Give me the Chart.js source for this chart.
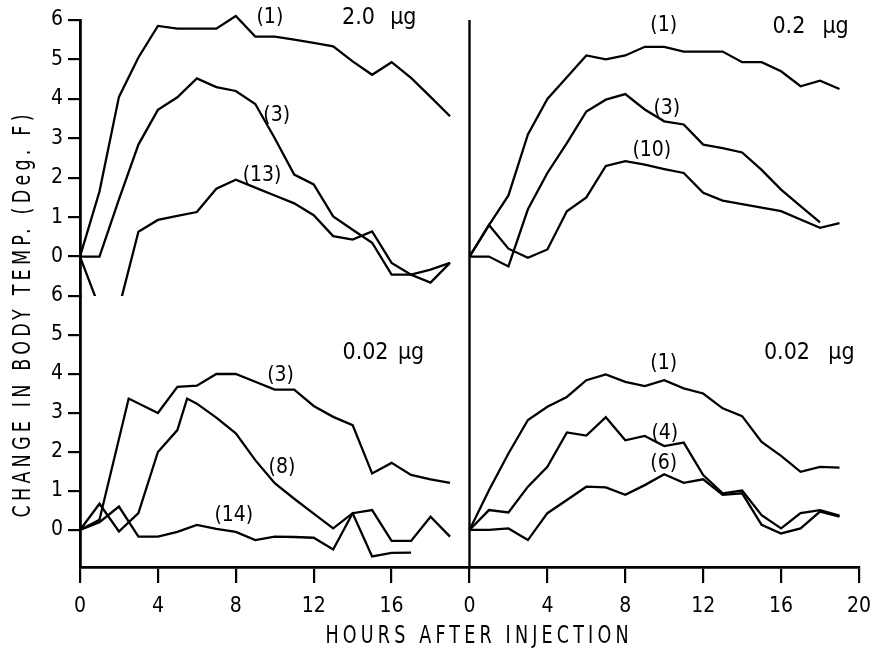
<!DOCTYPE html>
<html lang="en">
<head>
<meta charset="UTF-8">
<title>Change in body temperature</title>
<script src="https://cdn.jsdelivr.net/npm/chart.js"></script>
<style>
  body { margin: 0; background: #fff; }
</style>
</head>
<body>
<canvas id="myChart" width="882" height="656"></canvas>

<script>
// ---- data (hours after injection / change in temp, deg F) ----
const hours = [0, 1, 2, 3, 4, 5, 6, 7, 8, 9, 10, 11, 12, 13, 14, 15, 16, 17, 18, 19];

// top left : 2.0 ug
const tl1 = [0, 1.65, 4.05, 5.05, 5.85, 5.78, 5.78, 5.78, 6.1, 5.58, 5.58, 5.5, 5.42, 5.33, 4.95, 4.61, 4.93, 4.53, 4.05, 3.56];
const tl3 = [0, 0, 1.45, 2.84, 3.72, 4.04, 4.52, 4.3, 4.2, 3.87, 3.0, 2.08, 1.83, 1.02, 0.68, 0.35, -0.46, -0.46, -0.33, -0.16];
const tl13 = [0, -1.3, -1.3, 0.63, 0.93, 1.03, 1.13, 1.72, 1.95, 1.75, 1.55, 1.35, 1.05, 0.52, 0.43, 0.64, -0.16, -0.46, -0.66, -0.16];

// top right : 0.2 ug
const tr1 = [0, 0.8, 1.55, 3.1, 4.0, 4.55, 5.1, 5.0, 5.1, 5.32, 5.32, 5.2, 5.2, 5.2, 4.93, 4.93, 4.7, 4.32, 4.46, 4.25];
const tr3Hours = [0, 1, 2, 3, 4, 5, 6, 7, 8, 9, 10, 11, 12, 13, 14, 15, 16, 17, 18];
const tr3 = [0, 0, -0.25, 1.2, 2.12, 2.88, 3.68, 3.98, 4.12, 3.73, 3.43, 3.35, 2.84, 2.75, 2.64, 2.2, 1.7, 1.28, 0.87];
const tr10 = [0, 0.8, 0.2, -0.03, 0.18, 1.15, 1.5, 2.3, 2.42, 2.33, 2.22, 2.12, 1.62, 1.42, 1.33, 1.24, 1.15, 0.94, 0.73, 0.85];

// bottom left : 0.02 ug
const bl3Hours = [0, 1, 2.5, 4, 5, 6, 7, 8, 9, 10, 11, 12, 13, 14, 15, 16, 17, 18, 19];
const bl3 = [0, 0.26, 3.37, 3.0, 3.67, 3.7, 4.0, 4.0, 3.8, 3.6, 3.6, 3.18, 2.9, 2.69, 1.45, 1.72, 1.41, 1.3, 1.21];
const bl8Hours = [0, 1, 2, 3, 4, 5, 5.5, 6, 7, 8, 9, 10, 11, 12, 13, 14, 15, 16, 17];
const bl8 = [0, 0.67, -0.04, 0.43, 2.0, 2.56, 3.37, 3.24, 2.88, 2.48, 1.79, 1.2, 0.8, 0.42, 0.04, 0.43, -0.68, -0.59, -0.58];
const bl14 = [0, 0.2, 0.6, -0.17, -0.17, -0.05, 0.13, 0.03, -0.05, -0.26, -0.17, -0.18, -0.2, -0.5, 0.43, 0.51, -0.28, -0.28, 0.34, -0.17];

// bottom right : 0.02 ug
const br1 = [0, 1.02, 1.96, 2.82, 3.16, 3.41, 3.84, 3.99, 3.8, 3.69, 3.84, 3.63, 3.5, 3.12, 2.92, 2.26, 1.9, 1.49, 1.62, 1.6];
const br4 = [0, 0.51, 0.45, 1.11, 1.62, 2.5, 2.42, 2.89, 2.3, 2.41, 2.15, 2.24, 1.41, 0.94, 1.01, 0.38, 0.04, 0.43, 0.51, 0.37];
const br6 = [0, 0, 0.04, -0.26, 0.43, 0.77, 1.11, 1.09, 0.9, 1.15, 1.43, 1.21, 1.3, 0.9, 0.94, 0.13, -0.09, 0.04, 0.47, 0.34];

// ticks
const yTicks = [0, 1, 2, 3, 4, 5, 6];
const xTicksLeft = [0, 4, 8, 12, 16];
const xTicksRight = [0, 4, 8, 12, 16, 20];

// text written on the panels: [text, x scale, y scale, hours, deg]
const notes = [
    ['(1)', 'xL', 'yTop', 9.75, 6.06], ['2.0', 'xL', 'yTop', 14.3, 6.06], ['μg', 'xL', 'yTop', 16.6, 6.06],
    ['(3)', 'xL', 'yTop', 10.1, 3.58], ['(13)', 'xL', 'yTop', 9.35, 2.06],
    ['(1)', 'xR', 'yTop', 9.97, 5.86], ['0.2', 'xR', 'yTop', 16.4, 5.81], ['μg', 'xR', 'yTop', 18.8, 5.81],
    ['(3)', 'xR', 'yTop', 10.13, 3.76], ['(10)', 'xR', 'yTop', 9.36, 2.7],
    ['0.02', 'xL', 'yBot', 14.66, 4.55], ['μg', 'xL', 'yBot', 17.0, 4.55],
    ['(3)', 'xL', 'yBot', 10.3, 3.96], ['(8)', 'xL', 'yBot', 10.37, 1.59], ['(14)', 'xL', 'yBot', 7.9, 0.36],
    ['(1)', 'xR', 'yBot', 9.97, 4.27], ['0.02', 'xR', 'yBot', 16.3, 4.55], ['μg', 'xR', 'yBot', 19.1, 4.55],
    ['(4)', 'xR', 'yBot', 10.03, 2.47], ['(6)', 'xR', 'yBot', 9.97, 1.7],
];
</script>

<script>
const FONT = "'DejaVu Sans Condensed', 'Liberation Sans Narrow', 'DejaVu Sans', sans-serif";
const INK = '#000';

function pts(xs, ys) {
    return xs.map((x, i) => ({ x: x, y: ys[i] }));
}

function line(xs, ys, xAxis, yAxis) {
    return {
        data: pts(xs, ys),
        xAxisID: xAxis,
        yAxisID: yAxis,
        borderColor: INK,
        borderWidth: 2.3,
        pointRadius: 0,
        tension: 0,
        clip: false,
    };
}

// draw narrow lettering stretched to a given width (letter spacing)
function spreadText(ctx, text, cx, cy, width, angle) {
    const squeeze = 0.78;
    ctx.save();
    ctx.translate(cx, cy);
    ctx.rotate(angle);
    ctx.scale(squeeze, 1);
    ctx.letterSpacing = '0px';
    const w = ctx.measureText(text).width;
    const gap = (width / squeeze - w) / (text.length - 1);
    ctx.letterSpacing = gap + 'px';
    ctx.textAlign = 'left';
    ctx.textBaseline = 'middle';
    ctx.fillText(text, -width / squeeze / 2, 0);
    ctx.restore();
}

const decor = {
    id: 'decor',
    // keep each line inside its own panel
    beforeDatasetDraw(chart, args) {
        const xs = args.meta.xScale, ys = args.meta.yScale;
        const ctx = chart.ctx;
        ctx.save();
        ctx.beginPath();
        ctx.rect(xs.left - 2, ys.top - 20, xs.width + 4, ys.height + 20);
        ctx.clip();
    },
    afterDatasetDraw(chart) {
        chart.ctx.restore();
    },
    afterDraw(chart) {
        const ctx = chart.ctx;
        const area = chart.chartArea;
        const xR = chart.scales.xR;

        // divider between left and right panels
        ctx.save();
        ctx.strokeStyle = INK;
        ctx.lineWidth = 2.4;
        ctx.beginPath();
        ctx.moveTo(xR.left, area.top);
        ctx.lineTo(xR.left, area.bottom);
        ctx.stroke();

        // notes
        ctx.fillStyle = INK;
        ctx.textAlign = 'center';
        ctx.textBaseline = 'middle';
        notes.forEach(([text, xid, yid, x, y]) => {
            const big = !text.startsWith('(');
            ctx.font = (big ? '23px ' : '21px ') + FONT;
            ctx.fillText(text, chart.scales[xid].getPixelForValue(x), chart.scales[yid].getPixelForValue(y));
        });

        // axis titles
        ctx.font = '25px ' + FONT;
        spreadText(ctx, 'CHANGE IN BODY TEMP. (Deg. F)', 23, 316, 403, -Math.PI / 2);
        spreadText(ctx, 'HOURS AFTER INJECTION', 477, 636, 303, 0);
        ctx.restore();
    }
};

function yAxis(min, weight) {
    return {
        type: 'linear',
        position: 'left',
        stack: 'left',
        stackWeight: weight,
        min: min,
        max: 6,
        afterBuildTicks: (s) => { s.ticks = yTicks.map(v => ({ value: v })); },
        afterFit: (s) => { s.width = 80; },
        grid: { drawOnChartArea: false, tickLength: 12, color: INK, lineWidth: 2.2 },
        border: { color: INK, width: 2.8 },
        ticks: { color: INK, padding: 5, autoSkip: false, font: { family: FONT, size: 21 } },
    };
}

function xAxis(tickList) {
    return {
        type: 'linear',
        position: 'bottom',
        stack: 'bottom',
        stackWeight: 1,
        min: 0,
        max: 20,
        afterBuildTicks: (s) => { s.ticks = tickList.map(v => ({ value: v })); },
        afterFit: (s) => { s.height = 89; },
        grid: { drawOnChartArea: false, tickLength: 16, color: INK, lineWidth: 2.2 },
        border: { color: INK, width: 2.8 },
        ticks: { color: INK, padding: 11, autoSkip: false, maxRotation: 0, font: { family: FONT, size: 21 } },
    };
}

new Chart(document.getElementById('myChart'), {
    type: 'line',
    data: {
        datasets: [
            line(hours, tl1, 'xL', 'yTop'),
            line(hours, tl3, 'xL', 'yTop'),
            line(hours, tl13, 'xL', 'yTop'),
            line(hours, tr1, 'xR', 'yTop'),
            line(tr3Hours, tr3, 'xR', 'yTop'),
            line(hours, tr10, 'xR', 'yTop'),
            line(bl3Hours, bl3, 'xL', 'yBot'),
            line(bl8Hours, bl8, 'xL', 'yBot'),
            line(hours, bl14, 'xL', 'yBot'),
            line(hours, br1, 'xR', 'yBot'),
            line(hours, br4, 'xR', 'yBot'),
            line(hours, br6, 'xR', 'yBot'),
        ]
    },
    options: {
        responsive: false,
        animation: false,
        devicePixelRatio: 1,
        layout: { padding: { top: 20, right: 20, left: 0, bottom: 0 } },
        scales: {
            yBot: yAxis(-0.95, 271),
            yTop: yAxis(-1, 276),
            xL: xAxis(xTicksLeft),
            xR: xAxis(xTicksRight),
        },
        plugins: {
            legend: { display: false },
            tooltip: { enabled: false },
        },
    },
    plugins: [decor],
});
</script>
</body>
</html>
